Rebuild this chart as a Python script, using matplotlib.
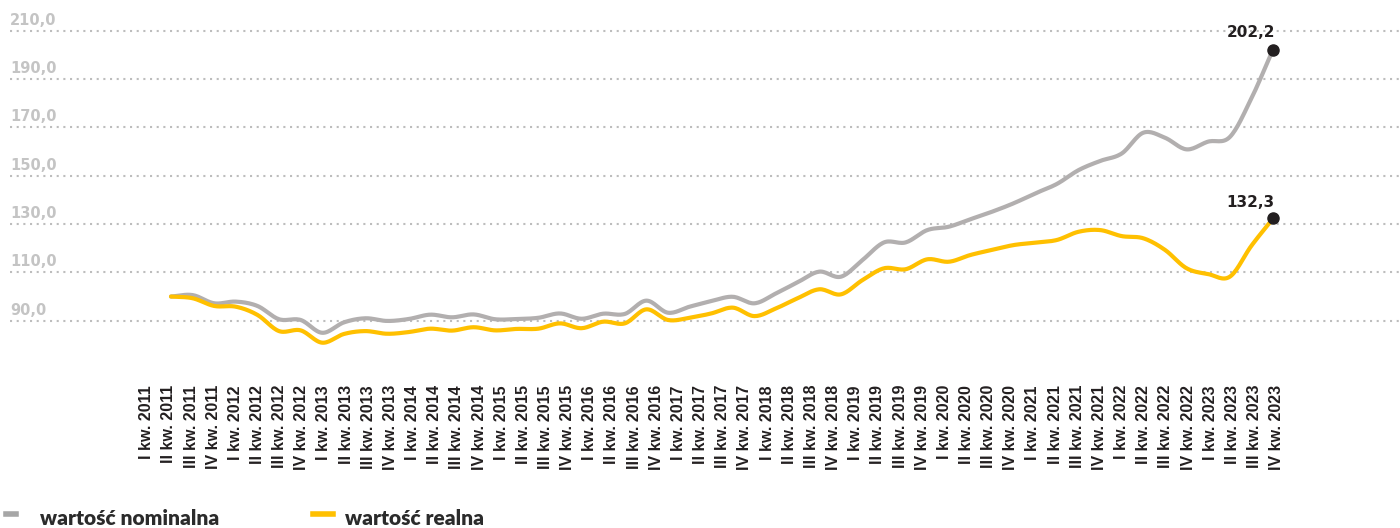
import numpy as np
import matplotlib
matplotlib.use("Agg")
import matplotlib.pyplot as plt
from matplotlib.lines import Line2D

years = list(range(2011, 2024))
quarters = ["I", "II", "III", "IV"]
categories = [f"{q} kw. {y}" for y in years for q in quarters]

nominal = [100.0, 100.6, 97.2, 97.9, 96.1, 90.6, 90.3, 85.0, 89.3, 91.0, 89.9, 90.7,
           92.5, 91.4, 92.6, 90.6, 90.7, 91.2, 93.0, 90.8, 92.9, 92.8, 98.3, 93.3,
           95.8, 98.1, 99.9, 97.2, 101.3, 105.9, 110.3, 108.2, 115.1, 122.4, 122.4, 127.5,
           128.9, 132.0, 135.1, 138.6, 142.7, 146.6, 152.3, 156.1, 159.2, 167.8, 165.7, 160.9,
           164.1, 166.0, 182.0, 202.2]
real = [100.0, 99.3, 96.1, 95.8, 92.4, 85.7, 86.0, 80.9, 84.5, 85.7, 84.6, 85.3,
        86.7, 85.9, 87.3, 86.0, 86.6, 86.7, 88.9, 86.9, 89.6, 88.9, 94.7, 90.3,
        91.2, 93.0, 95.4, 91.9, 95.1, 99.3, 103.0, 100.9, 106.8, 111.7, 111.3, 115.4,
        114.4, 117.2, 119.3, 121.3, 122.3, 123.4, 126.8, 127.5, 125.0, 124.1, 119.3, 111.7,
        109.3, 108.2, 121.0, 132.3]
yticks = [90, 110, 130, 150, 170, 190, 210]
ytick_labels = ["90,0", "110,0", "130,0", "150,0", "170,0", "190,0", "210,0"]
series_names = ["wartość nominalna", "wartość realna"]

GRAY = "#b2afaf"
YELLOW = "#ffc000"
DARK = "#231f20"


def smooth(y, n=16):
    y = np.asarray(y, float)
    p = np.concatenate([[2 * y[0] - y[1]], y, [2 * y[-1] - y[-2]]])
    t = np.linspace(0, 1, n, endpoint=False)
    out = []
    for i in range(len(y) - 1):
        p0, p1, p2, p3 = p[i], p[i + 1], p[i + 2], p[i + 3]
        seg = 0.5 * (2 * p1 + (-p0 + p2) * t + (2 * p0 - 5 * p1 + 4 * p2 - p3) * t ** 2
                     + (-p0 + 3 * p1 - 3 * p2 + p3) * t ** 3)
        out.append(seg)
    out.append([y[-1]])
    xs = np.linspace(0, len(y) - 1, (len(y) - 1) * n + 1)
    return xs, np.concatenate(out)


W, H = 1400, 528
fig = plt.figure(figsize=(W / 100, H / 100), dpi=100)
ax = fig.add_axes([10 / W, 168 / H, 1390 / W, 360 / H])
ax.set_ylim(73.74, 222.7)
step = 1102 / 51
x0 = -(171 - 10) / step
ax.set_xlim(x0, x0 + 1390 / step)
for s in ax.spines.values():
    s.set_visible(False)
ax.set_xticks([])
ax.set_yticks(yticks)
ax.tick_params(left=False, labelleft=False)
ax.yaxis.grid(True, color="#bdbdbd", linestyle=(0, (1, 2.2)), linewidth=1.5)
ax.set_axisbelow(True)

for v, lab in zip(yticks, ytick_labels):
    ax.annotate(lab, (0, v), xycoords=ax.get_yaxis_transform(), xytext=(0, 4.3),
                textcoords="offset points", ha="left", va="baseline",
                fontsize=10.5, fontweight="bold", family="DejaVu Sans", color="#c4c4c4")

xs, ys = smooth(nominal)
ax.plot(xs, ys, color=GRAY, lw=3, solid_capstyle="round", zorder=3)
xs, ys = smooth(real)
ax.plot(xs, ys, color=YELLOW, lw=3, solid_capstyle="round", zorder=4)

last = len(categories) - 1
ax.plot([last, last], [nominal[-1], real[-1]], "o", color=DARK, ms=8, zorder=5, ls="none")
ax.annotate(f"{nominal[-1]:.1f}".replace(".", ","), (last, nominal[-1]), xytext=(-16, 12.5),
            textcoords="offset points", ha="center", va="center", fontsize=11,
            fontweight="bold", color=DARK, family="DejaVu Sans")
ax.annotate(f"{real[-1]:.1f}".replace(".", ","), (last, real[-1]), xytext=(-16.5, 11.5),
            textcoords="offset points", ha="center", va="center", fontsize=11,
            fontweight="bold", color=DARK, family="DejaVu Sans")

# category labels axis
axl = ax.twiny()
axl.xaxis.set_ticks_position("bottom")
axl.xaxis.set_label_position("bottom")
lstep = 1130 / 51
lx0 = -(146.7 - 10) / lstep
axl.set_xlim(lx0, lx0 + 1390 / lstep)
for s in axl.spines.values():
    s.set_visible(False)
axl.set_xticks(range(len(categories)))
axl.set_xticklabels(categories, rotation=90, fontsize=11.5, fontweight="bold",
                    family="Liberation Sans", color=DARK)
axl.tick_params(axis="x", length=0, pad=18)

# legend
fig.add_artist(Line2D([6 / W, 16 / W], [1 - 514 / H, 1 - 514 / H], color="#a6a6a6", lw=4))
fig.text(40 / W, 1 - 525 / H, series_names[0], fontsize=15, fontweight="heavy", family="Lato",
         color="#2b2b2b", ha="left", va="baseline")
fig.add_artist(Line2D([313 / W, 333 / W], [1 - 514 / H, 1 - 514 / H], color=YELLOW, lw=4))
fig.text(345 / W, 1 - 525 / H, series_names[1], fontsize=15, fontweight="heavy", family="Lato",
         color="#2b2b2b", ha="left", va="baseline")

fig.savefig("out.png", dpi=100)
